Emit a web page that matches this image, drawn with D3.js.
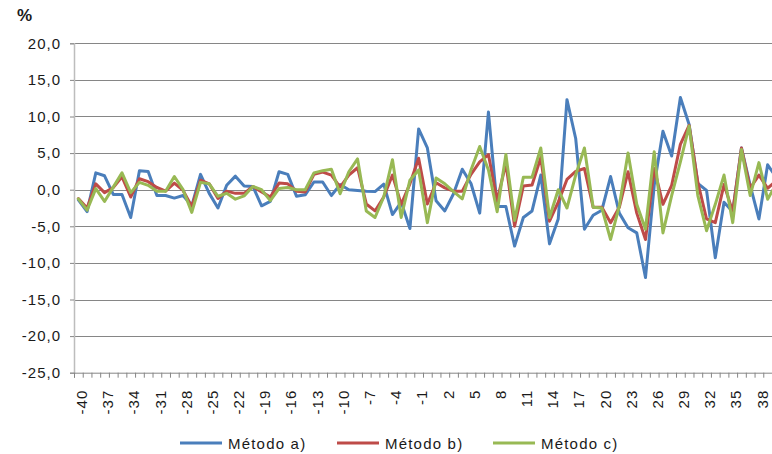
<!DOCTYPE html>
<html>
<head>
<meta charset="utf-8">
<script src="https://cdn.jsdelivr.net/npm/d3@7"></script>
<style>
  html, body { margin: 0; padding: 0; background: #ffffff; }
  svg { display: block; font-family: "Liberation Sans", Arial, sans-serif; }
</style>
</head>
<body>
<svg id="chart" width="772" height="454"></svg>
<script>
// Periods relative to the reference point
const periods = [-40,-39,-38,-37,-36,-35,-34,-33,-32,-31,-30,-29,-28,-27,-26,-25,-24,-23,-22,-21,
  -20,-19,-18,-17,-16,-15,-14,-13,-12,-11,-10,-9,-8,-7,-6,-5,-4,-3,-2,-1,
  0,1,2,3,4,5,6,7,8,9,10,11,12,13,14,15,16,17,18,19,
  20,21,22,23,24,25,26,27,28,29,30,31,32,33,34,35,36,37,38,39,40];

// Percent values for each estimation method
const metodoA = [-1.4,-3.0,2.3,1.9,-0.65,-0.65,-3.8,2.6,2.5,-0.8,-0.8,-1.15,-0.8,-2.2,2.1,-0.5,-2.5,0.6,1.85,0.5,
  0.45,-2.2,-1.6,2.45,2.1,-0.9,-0.7,1.05,1.05,-0.8,0.7,0.0,-0.1,-0.2,-0.25,0.75,-3.4,-1.7,-5.3,8.3,
  5.7,-1.5,-2.9,-0.55,2.8,0.85,-3.2,10.6,-2.3,-2.3,-7.7,-3.8,-2.9,2.0,-7.4,-4.0,12.3,7.0,-5.4,-3.5,
  -2.8,1.8,-3.2,-5.2,-5.9,-12.0,0.6,8.0,4.6,12.6,8.9,0.85,-0.1,-9.3,-1.7,-3.0,5.7,0.6,-4.0,3.4,1.7];

const metodoB = [-1.2,-2.5,0.8,-0.4,0.3,1.75,-1.0,1.5,1.1,0.3,-0.2,0.9,-0.1,-2.3,1.3,0.8,-1.2,-0.2,-0.5,-0.5,
  0.45,-0.3,-1.0,0.9,0.8,-0.2,-0.3,2.1,2.4,2.0,0.35,2.0,3.0,-1.95,-2.9,-1.0,2.0,-2.0,0.8,4.3,
  -1.95,0.95,0.25,-0.2,-0.2,2.1,3.8,4.8,-1.5,3.6,-5.0,0.5,0.65,4.4,-4.3,-1.7,1.4,2.5,2.9,-2.4,
  -2.4,-4.5,-2.4,2.45,-3.2,-6.8,2.9,-2.0,0.6,6.2,8.8,1.0,-4.0,-4.5,0.7,-3.0,5.7,0.2,2.0,0.2,1.2];

const metodoC = [-1.25,-2.8,0.15,-1.6,0.35,2.3,-0.4,1.0,0.6,-0.2,-0.2,1.8,0.0,-3.1,1.0,0.8,-0.9,-0.5,-1.3,-0.85,
  0.45,0.0,-1.5,0.15,0.3,0.0,0.0,2.3,2.6,2.8,-0.55,2.45,4.2,-2.9,-3.8,-1.0,4.1,-3.8,1.3,2.7,
  -4.5,1.6,0.8,-0.25,-1.25,2.7,5.9,2.7,-3.0,4.8,-4.2,1.7,1.7,5.7,-3.8,0.0,-2.5,2.0,5.7,-2.4,
  -2.5,-6.8,-2.2,5.0,-2.0,-5.4,5.2,-5.9,-0.8,3.8,8.7,-0.8,-5.6,-2.0,2.0,-4.5,5.5,-0.8,3.7,-1.3,0.8];

const seriesNames = ["Método a)", "Método b)", "Método c)"];
const seriesColors = ["#4a7ebb", "#be4b48", "#98b954"];
const yTickValues = [-25, -20, -15, -10, -5, 0, 5, 10, 15, 20];

const series = [metodoA, metodoB, metodoC].map((vals, i) => ({
  name: seriesNames[i],
  color: seriesColors[i],
  points: periods.map((p, j) => ({ period: p, value: vals[j] }))
}));

const svg = d3.select("#chart");
const plot = { left: 74, top: 43.3, bottom: 372.7, step: 8.725 };
plot.right = plot.left + plot.step * periods.length;

const x = d3.scaleBand()
  .domain(periods)
  .range([plot.left, plot.right])
  .paddingInner(0).paddingOuter(0);
const xc = p => x(p) + x.bandwidth() / 2;

const y = d3.scaleLinear().domain([-25, 20]).range([plot.bottom, plot.top]);

const locale = d3.formatLocale({ decimal: ",", thousands: ".", grouping: [3], currency: ["", ""], minus: "-" });
const fmt = locale.format(".1f");

// Horizontal gridlines
svg.append("g")
  .selectAll("line")
  .data(yTickValues.filter(v => v !== -25))
  .join("line")
  .attr("x1", plot.left).attr("x2", plot.right)
  .attr("y1", d => Math.round(y(d)) + 0.5).attr("y2", d => Math.round(y(d)) + 0.5)
  .attr("stroke", "#868686").attr("stroke-width", 1);

// Y axis
const yAxis = svg.append("g")
  .attr("transform", `translate(${plot.left},0)`)
  .call(d3.axisLeft(y).tickValues(yTickValues).tickFormat(fmt).tickSize(4).tickPadding(9));
yAxis.select(".domain").attr("stroke", "#bdbdbd").attr("stroke-width", 1.5);
yAxis.selectAll(".tick line").attr("stroke", "#868686");
yAxis.selectAll(".tick text")
  .attr("font-size", 15).attr("fill", "#1a1a1a").attr("letter-spacing", 1);

// X axis: minor ticks at every period boundary
const edge = d3.scaleLinear().domain([0, periods.length]).range([plot.left, plot.right]);
const xMinor = svg.append("g")
  .attr("transform", `translate(0,${plot.bottom})`)
  .call(d3.axisBottom(edge).tickValues(d3.range(0, periods.length + 1)).tickFormat("").tickSize(5));
xMinor.select(".domain").attr("stroke", "#868686");
xMinor.selectAll(".tick line").attr("stroke", "#868686");

// X axis labels every third period, rotated
const xAxis = svg.append("g")
  .attr("transform", `translate(0,${plot.bottom})`)
  .call(d3.axisBottom(x).tickValues(periods.filter((p, i) => i % 3 === 0)).tickSize(0).tickPadding(0));
xAxis.select(".domain").remove();
xAxis.selectAll(".tick text")
  .attr("transform", "translate(8.7,17) rotate(-90)")
  .attr("text-anchor", "end")
  .attr("dy", 0)
  .attr("y", 0)
  .attr("font-size", 15).attr("fill", "#1a1a1a").attr("letter-spacing", 1);

// Series lines
const line = d3.line()
  .x(d => xc(d.period))
  .y(d => y(d.value));

svg.append("g")
  .selectAll("path")
  .data(series)
  .join("path")
  .attr("d", d => line(d.points))
  .attr("fill", "none")
  .attr("stroke", d => d.color)
  .attr("stroke-width", 3)
  .attr("stroke-linejoin", "round")
  .attr("stroke-linecap", "round");

// Unit label
svg.append("text")
  .attr("x", 17).attr("y", 21)
  .attr("font-size", 17).attr("font-weight", "bold").attr("fill", "#1a1a1a")
  .text("%");

// Legend
const legendX = [180, 337, 493];
const legend = svg.append("g");
series.forEach((s, i) => {
  legend.append("line")
    .attr("x1", legendX[i]).attr("x2", legendX[i] + 42)
    .attr("y1", 443).attr("y2", 443)
    .attr("stroke", s.color).attr("stroke-width", 3);
  legend.append("text")
    .attr("x", legendX[i] + 48).attr("y", 449)
    .attr("font-size", 15).attr("fill", "#1a1a1a").attr("letter-spacing", 1.2)
    .text(s.name);
});
</script>
</body>
</html>
